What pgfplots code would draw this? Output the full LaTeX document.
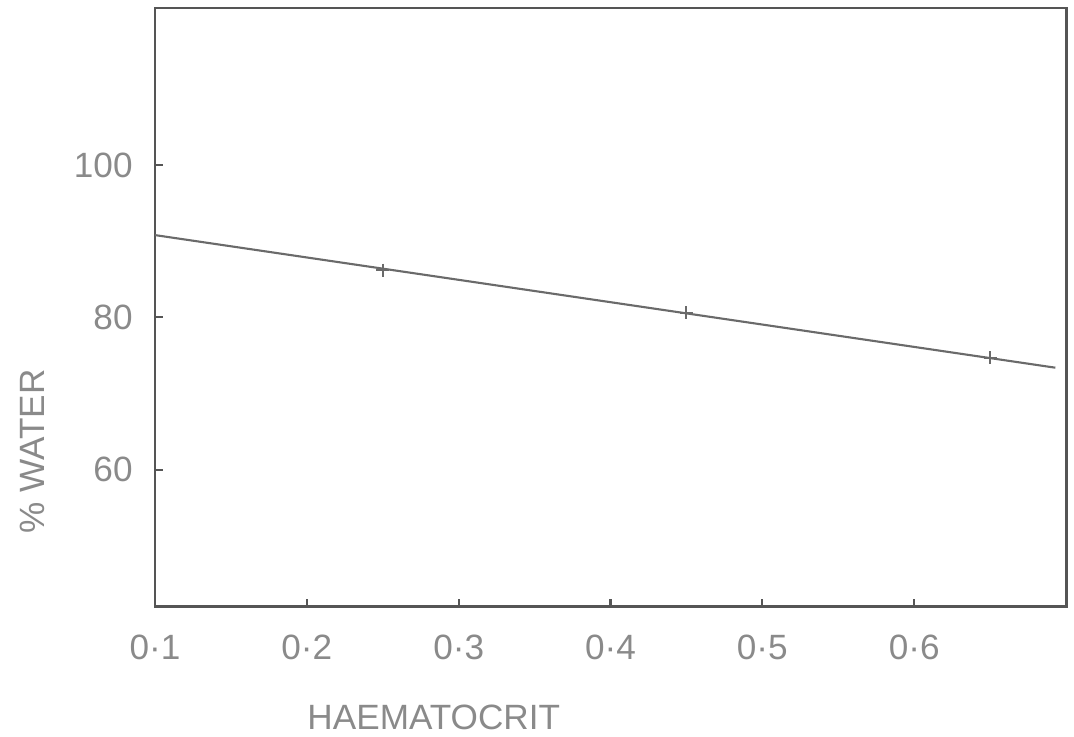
\documentclass[border=0pt]{standalone}
\usepackage{fontspec}
\setmainfont{Liberation Sans}
\usepackage{pgfplots}
\pgfplotsset{compat=1.18}
\definecolor{inkdark}{HTML}{555555}
\definecolor{inkline}{HTML}{6A6A6A}
\definecolor{labelgray}{HTML}{8A8A8A}
\begin{document}
\begin{tikzpicture}
\begin{axis}[
  scale only axis,
  width=91.1mm, height=59.9mm,
  xmin=0.1, xmax=0.7,
  ymin=42, ymax=120.6,
  axis line style={draw=inkdark, line width=0.85pt},
  xtick={0.1,0.2,0.3,0.4,0.5,0.6},
  xticklabels={0·1,0·2,0·3,0·4,0·5,0·6},
  ytick={60,80,100},
  yticklabels={60,80,100},
  tick align=inside,
  xtick pos=bottom, ytick pos=left,
  major tick length=0.8mm,
  tick style={draw=inkdark, line width=0.6pt},
  tick label style={font=\fontsize{10}{12}\selectfont, text=labelgray},
  xticklabel style={yshift=-1.6mm},
  yticklabel style={xshift=-1.0mm},
  xlabel={HAEMATOCRIT},
  ylabel={\% WATER},
  label style={font=\fontsize{10}{12}\selectfont, text=labelgray},
  xlabel style={at={(axis description cs:0.306,-0.184)}, anchor=center},
  ylabel style={at={(axis description cs:-0.135,0.26)}, anchor=center, rotate=0},
  clip=false,
]
% fitted regression line
\addplot[inkline, line width=0.6pt] coordinates {(0.1,90.8) (0.693,73.4)};
% measured points
\addplot[only marks, mark=+, mark size=0.65mm, inkline, mark options={line width=0.6pt}]
  coordinates {(0.25,86.2) (0.45,80.6) (0.65,74.7)};
\end{axis}
\pgfresetboundingbox
\useasboundingbox ([xshift=-15.5mm, yshift=-13.0mm]current axis.south west)
  rectangle ([xshift=0.8mm, yshift=0.8mm]current axis.north east);
\end{tikzpicture}
\end{document}
